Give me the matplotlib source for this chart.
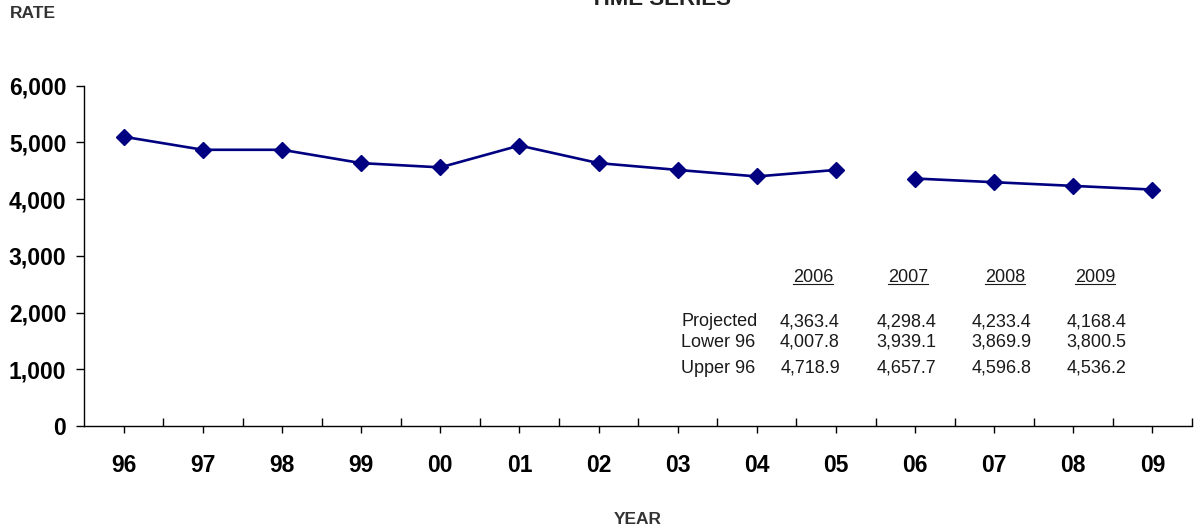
import numpy as np
import matplotlib
matplotlib.use('Agg')
import matplotlib.pyplot as plt
from matplotlib.ticker import FuncFormatter, FixedLocator
from matplotlib.lines import Line2D

plt.rcParams['font.family'] = ['Liberation Sans', 'DejaVu Sans']

years = ['96', '97', '98', '99', '00', '01', '02', '03', '04', '05', '06', '07', '08', '09']
history = [5100, 4870, 4870, 4635, 4560, 4945, 4635, 4515, 4400, 4515]   # 96..05
proj_years = ['2006', '2007', '2008', '2009']
projected = [4363.4, 4298.4, 4233.4, 4168.4]
lower96 = [4007.8, 3939.1, 3869.9, 3800.5]
upper96 = [4718.9, 4657.7, 4596.8, 4536.2]

W, H = 1195, 531
fig = plt.figure(figsize=(W / 100, H / 100), dpi=100)
ax = fig.add_axes([84.3 / W, 1 - 426 / H, (1192 - 84.3) / W, (426 - 85.7) / H])

x_hist = np.arange(len(history))
x_proj = np.arange(len(history), len(history) + len(projected))
navy = '#000080'
ax.plot(x_hist, history, color=navy, lw=1.9, marker='D', ms=8.5, mec=navy, mfc=navy)
ax.plot(x_proj, projected, color=navy, lw=1.9, marker='D', ms=8.5, mec=navy, mfc=navy)

ax.set_xlim(-0.5, len(years) - 0.5)
ax.set_ylim(0, 6000)
ax.spines['top'].set_visible(False)
ax.spines['right'].set_visible(False)
for s in ('left', 'bottom'):
    ax.spines[s].set_linewidth(1.0)
    ax.spines[s].set_color('black')

ax.set_xticks(np.arange(len(years)))
ax.set_xticklabels(years, fontsize=16.5, fontweight='bold')
ax.xaxis.set_minor_locator(FixedLocator(np.arange(len(years)) + 0.5))
ax.tick_params(axis='x', which='major', direction='out', length=5, width=1, pad=15.5)
ax.tick_params(axis='x', which='minor', direction='in', length=6, width=1)

ax.set_yticks(np.arange(0, 6001, 1000))
ax.yaxis.set_major_formatter(FuncFormatter(lambda v, p: f'{int(v):,}'))
ax.tick_params(axis='y', direction='out', length=6, width=1, pad=7, labelsize=16.5)
for t in ax.get_yticklabels():
    t.set_fontweight('bold')

fig.text(661 / W, 1 - 5 / H, 'TIME SERIES', ha='center', va='baseline',
         fontsize=16, fontweight='bold', color='#222222')
fig.text(10 / W, 1 - 14 / H, 'RATE', ha='left', va='center',
         fontsize=12.5, fontweight='bold', color='#333333')
fig.text(638 / W, 1 - 519 / H, 'YEAR', ha='center', va='center',
         fontsize=12.5, fontweight='bold', color='#333333')

# projection table, in axes fraction
col_hdr = [0.6578, 0.7440, 0.8312, 0.9124]
col_val = [0.6822, 0.7689, 0.8553, 0.9411]
row_y = [0.3065, 0.246, 0.1696]
row_names = ['Projected', 'Lower 96', 'Upper 96']
row_vals = [projected, lower96, upper96]
tcol = '#1a1a1a'
hdrs = []
for cx, yr in zip(col_hdr, proj_years):
    hdrs.append(ax.text(cx, 0.437, yr, transform=ax.transAxes, ha='center', va='center',
                        fontsize=13, color=tcol))
for ry, name, vals in zip(row_y, row_names, row_vals):
    ax.text(0.5389, ry, name, transform=ax.transAxes, ha='left', va='center',
            fontsize=13, color=tcol)
    for cx, v in zip(col_val, vals):
        ax.text(cx, ry, f'{v:,.1f}', transform=ax.transAxes, ha='right', va='center',
                fontsize=13, color=tcol)

# underline the year headers
fig.canvas.draw()
r = fig.canvas.get_renderer()
for t in hdrs:
    bb = t.get_window_extent(renderer=r)
    yl = bb.y0 + 2
    fig.add_artist(Line2D([bb.x0 / W, bb.x1 / W], [yl / H, yl / H],
                          transform=fig.transFigure, color=tcol, lw=0.8))

fig.savefig('out.png', dpi=100)
